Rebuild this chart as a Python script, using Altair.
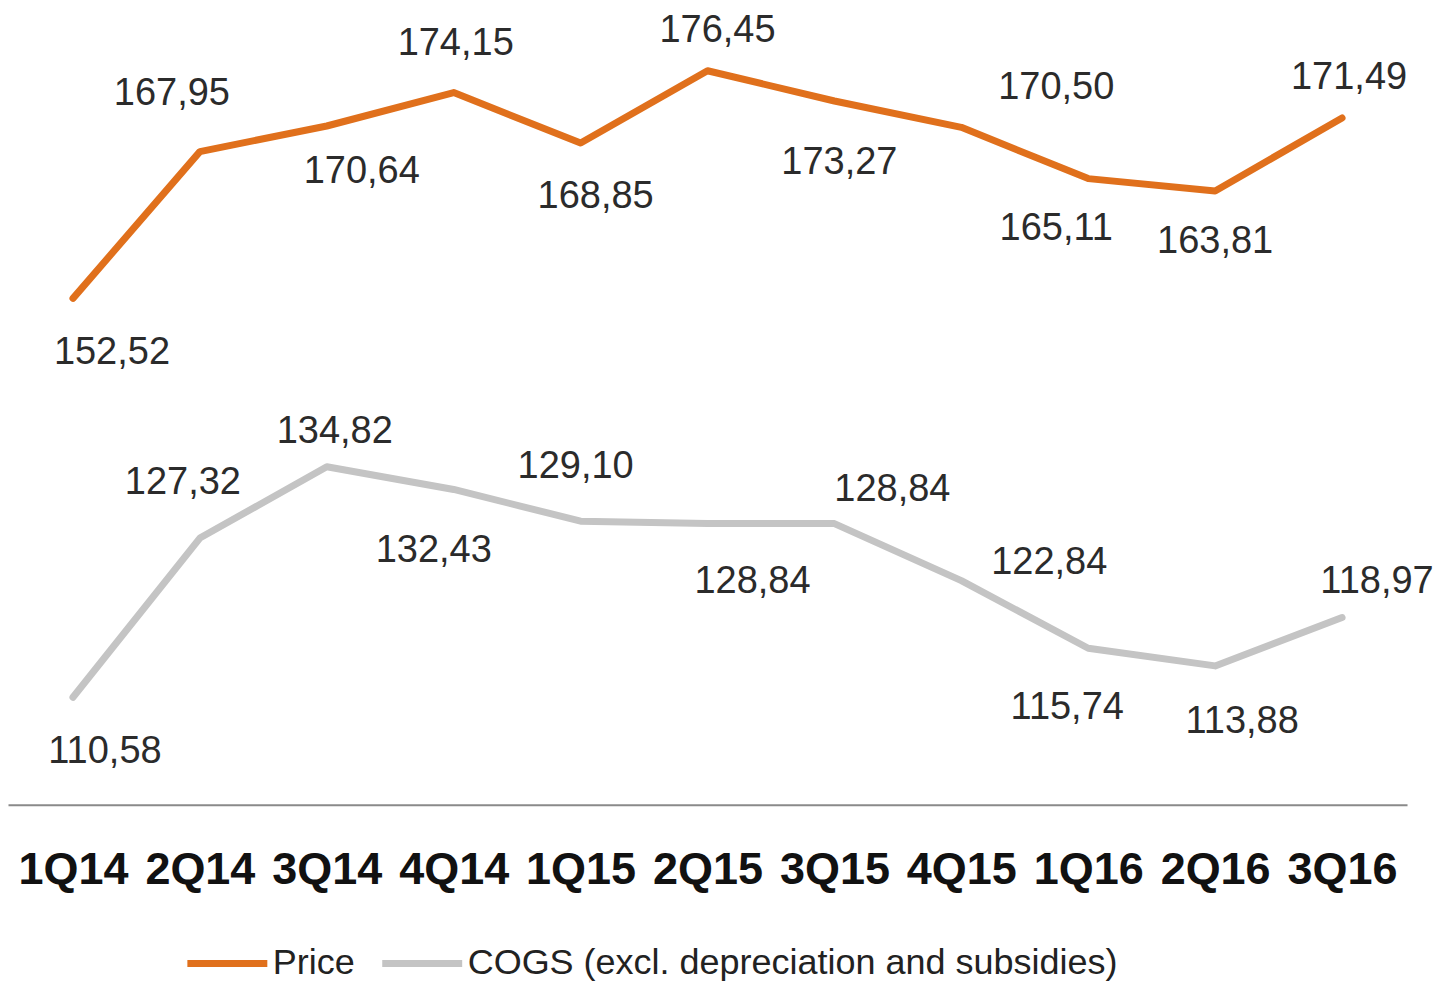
import altair as alt
import pandas as pd

# ---------------- data ----------------
quarters = ["1Q14", "2Q14", "3Q14", "4Q14", "1Q15", "2Q15", "3Q15", "4Q15", "1Q16", "2Q16", "3Q16"]
price = [152.52, 167.95, 170.64, 174.15, 168.85, 176.45, 173.27, 170.50, 165.11, 163.81, 171.49]
cogs = [110.58, 127.32, 134.82, 132.43, 129.10, 128.84, 128.84, 122.84, 115.74, 113.88, 118.97]
series_names = ["Price", "COGS (excl. depreciation and subsidies)"]

# ---------------- style / layout ----------------
colors = ["#E0701C", "#C4C4C4"]
FONT = "Liberation Sans, Arial, sans-serif"
# label offsets (dx, dy) in pixels from each point, as in the source chart
price_label_offsets = [(39, 55), (-28, -58), (35, 46), (2, -49), (15, 54), (10, -40),
                       (5, 62), (95, -39), (-32, 50), (0, 51), (7, -40)]
cogs_label_offsets = [(32, 55), (-17, -55), (8, -35), (-20, 62), (-5, -54), (45, 58),
                      (58, -34), (88, -18), (-21, 60), (27, 56), (35, -36)]

rows = []
for i, q in enumerate(quarters):
    rows.append({"quarter": q, "series": series_names[0], "value": price[i],
                 "label": f"{price[i]:.2f}".replace(".", ","), "key": f"p{i}"})
    rows.append({"quarter": q, "series": series_names[1], "value": cogs[i],
                 "label": f"{cogs[i]:.2f}".replace(".", ","), "key": f"c{i}"})
df = pd.DataFrame(rows)

x_enc = alt.X("quarter:N", sort=quarters,
              scale=alt.Scale(type="point", padding=0.512),
              axis=alt.Axis(title=None, ticks=False, labelAngle=0, grid=False,
                            labelFont=FONT, labelFontSize=45, labelFontWeight="bold",
                            labelColor="#111111", labelPadding=43,
                            domainColor="#8a8a8a", domainWidth=2))
y_enc = alt.Y("value:Q", scale=alt.Scale(domain=[99.28, 183.01], zero=False, nice=False),
              axis=None)

lines = alt.Chart(df).mark_line(strokeWidth=7, strokeCap="round", strokeJoin="round").encode(
    x=x_enc, y=y_enc,
    color=alt.Color("series:N", sort=series_names,
                    scale=alt.Scale(domain=series_names, range=colors),
                    legend=alt.Legend(title=None, orient="none", legendX=176, legendY=912,
                                      direction="horizontal", symbolType="stroke",
                                      symbolSize=6400, symbolStrokeWidth=7,
                                      labelFont=FONT, labelFontSize=36, labelColor="#222222",
                                      labelLimit=1000, labelOffset=2, columnPadding=12)),
    detail="series:N",
)

layers = [lines]
for i in range(len(quarters)):
    for prefix, offs in (("p", price_label_offsets), ("c", cogs_label_offsets)):
        dx, dy = offs[i]
        layers.append(
            alt.Chart(df).transform_filter(alt.datum.key == f"{prefix}{i}")
            .mark_text(dx=dx, dy=dy, font=FONT, fontSize=38, color="#2b2b2b",
                       align="center", baseline="middle")
            .encode(x=x_enc, y=y_enc, text="label:N")
        )

chart = alt.layer(*layers).properties(
    width=1400, height=797,
    autosize=alt.AutoSizeParams(type="none"),
    padding={"left": 0, "top": 0, "right": 30, "bottom": 178},
).configure_view(strokeWidth=0)

chart.save("out.html", embed_options={"renderer": "svg", "actions": False})
